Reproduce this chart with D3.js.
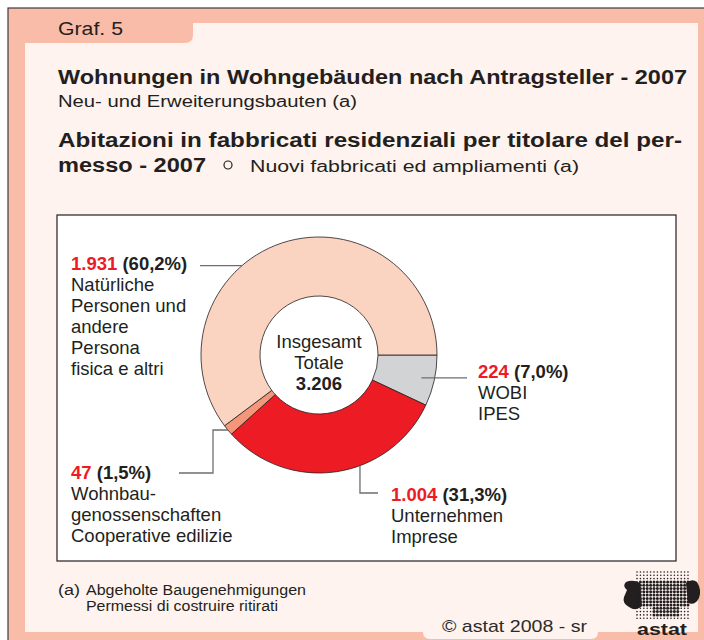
<!DOCTYPE html>
<html>
<head>
<meta charset="utf-8">
<script src="https://cdn.jsdelivr.net/npm/d3@7"></script>
<style>
  html, body { margin: 0; padding: 0; background: #ffffff; }
  svg { display: block; }
  text { font-family: "Liberation Sans", Arial, Helvetica, sans-serif; }
</style>
</head>
<body>
<svg id="chart" width="704" height="640"></svg>
<script>
// ---------- DATA ----------
const categories = ["WOBI", "Unternehmen", "Wohnbaugenossenschaften", "Natürliche Personen"];
const values = [224, 1004, 47, 1931];
const valueLabels = ["224", "1.004", "47", "1.931"];
const shareLabels = ["(7,0%)", "(31,3%)", "(1,5%)", "(60,2%)"];
const labelLines = [
  ["WOBI", "IPES"],
  ["Unternehmen", "Imprese"],
  ["Wohnbau-", "genossenschaften", "Cooperative edilizie"],
  ["Natürliche", "Personen und", "andere", "Persona", "fisica e altri"]
];
const totalLabel = ["Insgesamt", "Totale", "3.206"];
const graphTag = "Graf. 5";
const titleDe = "Wohnungen in Wohngebäuden nach Antragsteller - 2007";
const subtitleDe = "Neu- und Erweiterungsbauten (a)";
const titleIt1 = "Abitazioni in fabbricati residenziali per titolare del per-";
const titleIt2 = "messo - 2007";
const subtitleIt = "Nuovi fabbricati ed ampliamenti (a)";
const footnote = ["(a)", "Abgeholte Baugenehmigungen", "Permessi di costruire ritirati"];
const copyright = "©  astat 2008 - sr";

// ---------- STYLE / LAYOUT ----------
const sliceColors = ["#d1d3d4", "#ed1c24", "#f4967a", "#fbd3c1"];
const salmon = "#f9bca8", cream = "#fef3ee", dark = "#231f20", red = "#ed1c24", leaderCol = "#6d6e71";
const cx = 319, cy = 355, rOuter = 118, rInner = 59;

const svg = d3.select("#chart");

// frame
svg.append("rect").attr("x", 8).attr("y", 8).attr("width", 720).attr("height", 660)
  .attr("fill", salmon).attr("stroke", "#3a3a3a").attr("stroke-width", 1.2);
svg.append("path")
  .attr("d", "M25,43 L185,43 Q193,43 193,35 L193,23 L698,23 L698,632 L25,632 Z")
  .attr("fill", cream);
// bottom copyright tab
svg.append("path")
  .attr("d", "M423,630 L598,630 L598,632 Q598,639 591,639 L430,639 Q423,639 423,632 Z")
  .attr("fill", cream);

// header texts
function fitText(g, str, x, y, size, weight, len) {
  return g.append("text").attr("x", x).attr("y", y)
    .attr("font-size", size).attr("font-weight", weight).attr("fill", dark)
    .attr("textLength", len).attr("lengthAdjust", "spacingAndGlyphs").text(str);
}
fitText(svg, graphTag, 58, 35, 18, "normal", 65);
fitText(svg, titleDe, 58, 84, 20, "bold", 629);
fitText(svg, subtitleDe, 58, 107, 16, "normal", 299);
fitText(svg, titleIt1, 58, 147, 20, "bold", 624);
fitText(svg, titleIt2, 58, 172, 20, "bold", 148);
svg.append("circle").attr("cx", 228).attr("cy", 165).attr("r", 4)
  .attr("fill", "none").attr("stroke", dark).attr("stroke-width", 1.2);
fitText(svg, subtitleIt, 250, 172, 16, "normal", 329);

// chart box
svg.append("rect").attr("x", 57).attr("y", 215).attr("width", 619).attr("height", 346)
  .attr("fill", "#ffffff").attr("stroke", dark).attr("stroke-width", 1.2);

// donut
const pie = d3.pie().sort(null).value(d => d)
  .startAngle(Math.PI / 2).endAngle(Math.PI / 2 + 2 * Math.PI);
const arcs = pie(values);
const arc = d3.arc().innerRadius(rInner).outerRadius(rOuter);
const g = svg.append("g").attr("transform", `translate(${cx},${cy})`);
g.selectAll("path.slice").data(arcs).join("path")
  .attr("class", "slice")
  .attr("d", arc)
  .attr("fill", (d, i) => sliceColors[i])
  .attr("stroke", dark).attr("stroke-width", 0.8);

// center label
const ct = svg.append("g").attr("transform", `translate(${cx},${cy})`);
totalLabel.forEach((t, i) => {
  ct.append("text").attr("x", 0).attr("y", -7 + i * 21)
    .attr("text-anchor", "middle").attr("font-size", 18.5)
    .attr("font-weight", i === 2 ? "bold" : "normal").attr("fill", dark).text(t);
});

// leader lines + labels
const labelLayout = [
  { frac: 0.5,   r: 105, tx: 478, ty: 378, route: [["h", 467]] },
  { frac: 0.395, r: rOuter, tx: 391, ty: 501, route: [["v", 493], ["h", 378]] },
  { frac: 0.5,   r: rOuter, tx: 71,  ty: 479, route: [["h", 213], ["v", 473], ["h", 179]] },
  { frac: 0.397, r: rOuter, tx: 71,  ty: 270, route: [["h", 200]] }
];
arcs.forEach((a, i) => {
  const L = labelLayout[i];
  const ang = a.startAngle + (a.endAngle - a.startAngle) * L.frac;
  let x = cx + L.r * Math.sin(ang), y = cy - L.r * Math.cos(ang);
  const pts = [[x, y]];
  L.route.forEach(([dir, v]) => { if (dir === "h") x = v; else y = v; pts.push([x, y]); });
  svg.append("path").attr("d", d3.line()(pts))
    .attr("fill", "none").attr("stroke", leaderCol).attr("stroke-width", 1.3);

  const t = svg.append("text").attr("x", L.tx).attr("y", L.ty)
    .attr("font-size", 18.5).attr("font-weight", "bold");
  t.append("tspan").attr("fill", red).text(valueLabels[i]);
  t.append("tspan").attr("fill", dark).text(" " + shareLabels[i]);
  labelLines[i].forEach((ln, j) => {
    svg.append("text").attr("x", L.tx).attr("y", L.ty + 21 * (j + 1))
      .attr("font-size", 18.5).attr("fill", dark).text(ln);
  });
});

// footnote
fitText(svg, footnote[0], 58, 595, 14, "normal", 22);
fitText(svg, footnote[1], 86, 595, 14, "normal", 220);
fitText(svg, footnote[2], 86, 611, 14, "normal", 192);
fitText(svg, copyright, 442, 632, 17, "normal", 145).attr("fill", "#2b2b2b");

// astat logo (decorative dot-matrix)
const logo = svg.append("g");
logo.append("path")
  .attr("d", "M627,590 Q622,586 626,582 Q633,579 640,583 L642,606 Q636,612 629,607 Q622,603 624,597 Z")
  .attr("fill", dark);
logo.append("path")
  .attr("d", "M686,583 Q692,578 697,582 Q702,590 699,598 Q695,606 688,603 Z")
  .attr("fill", dark);
for (let row = 0; row < 15; row++) {
  for (let col = 0; col < 16; col++) {
    const x = 637 + col * 3.4, y = 572 + row * 3.3;
    const inBody = row >= 3 && row <= 10 && col >= 1 && col <= 15;
    const inTail = row > 10 && row <= 13 && col >= 5 && col <= 12;
    const big = inBody || inTail;
    logo.append("circle").attr("cx", x).attr("cy", y)
      .attr("r", big ? 1.5 : 0.8).attr("fill", dark);
  }
}
logo.append("text").attr("x", 662).attr("y", 635).attr("text-anchor", "middle")
  .attr("font-size", 16).attr("font-weight", "bold").attr("fill", dark)
  .attr("textLength", 50).attr("lengthAdjust", "spacingAndGlyphs").text("astat");
</script>
</body>
</html>
